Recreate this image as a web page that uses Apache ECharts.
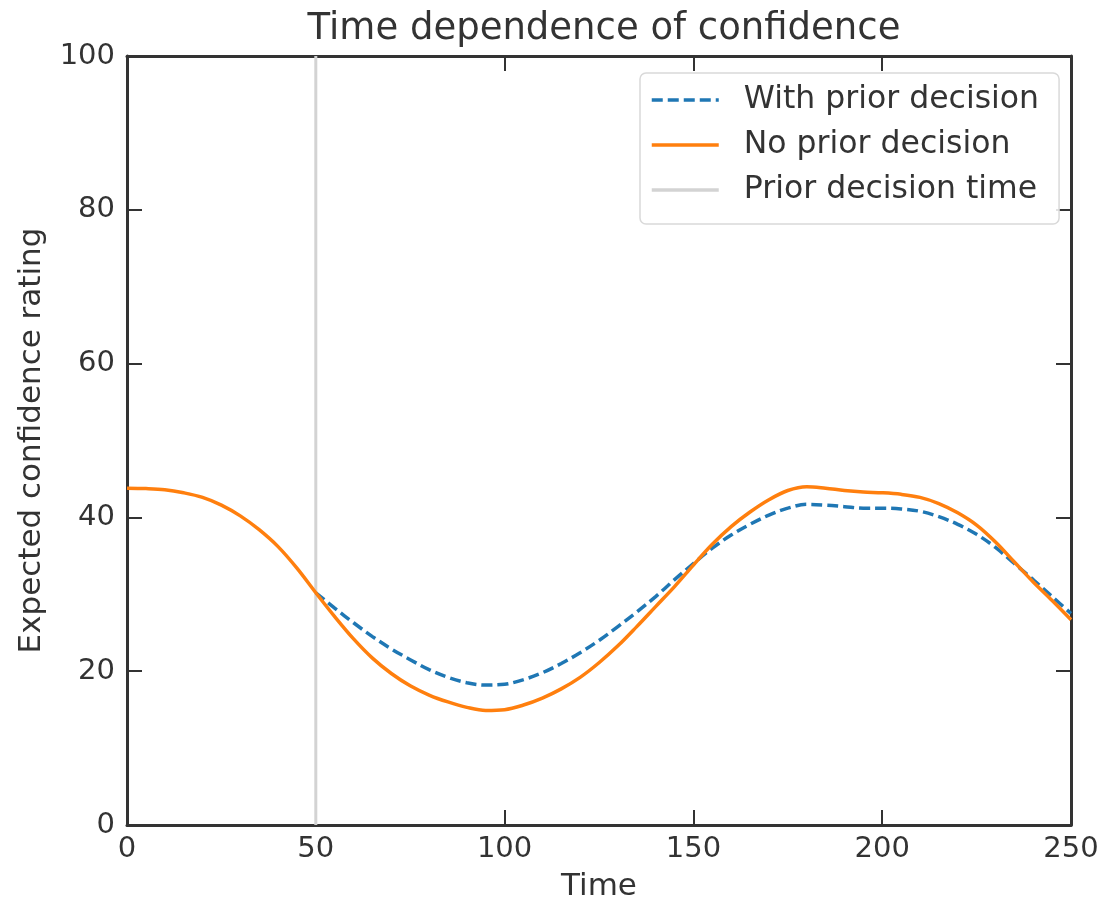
<!DOCTYPE html>
<html>
<head>
<meta charset="utf-8">
<title>Time dependence of confidence</title>
<script src="https://cdn.jsdelivr.net/npm/echarts@6/dist/echarts.min.js"></script>
<style>
  html, body { margin: 0; padding: 0; background: #fff; }
  #chart { width: 1115px; height: 899px; }
</style>
</head>
<body>
<div id="chart"></div>
<script>
// time points (step 5)
var time = [0, 5, 10, 15, 20, 25, 30, 35, 40, 45, 50, 55, 60, 65, 70, 75, 80, 85, 90, 95,
  100, 105, 110, 115, 120, 125, 130, 135, 140, 145, 150, 155, 160, 165, 170, 175, 180, 185, 190, 195,
  200, 205, 210, 215, 220, 225, 230, 235, 240, 245, 250]
// no prior decision (orange)
var noPrior = [43.8, 43.75, 43.6, 43.2, 42.6, 41.6, 40.2, 38.4, 36.2, 33.4, 30.2, 27.1, 24.2, 21.7, 19.7, 18.1, 16.9, 16.0, 15.3, 14.9,
  15.0, 15.6, 16.5, 17.7, 19.2, 21.1, 23.3, 25.8, 28.4, 31.0, 33.8, 36.5, 38.8, 40.7, 42.3, 43.5, 44.0, 43.8, 43.5, 43.3,
  43.2, 43.0, 42.6, 41.8, 40.6, 39.0, 36.8, 34.2, 31.6, 29.2, 26.7]
// with prior decision (blue dashed), starts at the decision time
var priorTime = [50, 55, 60, 65, 70, 75, 80, 85, 90, 95, 100, 105, 110, 115, 120, 125, 130, 135, 140, 145,
  150, 155, 160, 165, 170, 175, 180, 185, 190, 195, 200, 205, 210, 215, 220, 225, 230, 235, 240, 245, 250]
var withPrior = [30.2, 28.2, 26.3, 24.5, 22.9, 21.5, 20.2, 19.2, 18.5, 18.2, 18.3, 18.9, 19.8, 21.0, 22.4, 24.0, 25.8, 27.7, 29.7, 31.9,
  34.0, 36.0, 37.7, 39.1, 40.3, 41.2, 41.7, 41.6, 41.4, 41.2, 41.2, 41.1, 40.8, 40.1, 39.1, 37.8, 36.1, 34.0, 31.9, 29.7, 27.5]
var decisionTime = 50
var xTicks = { min: 0, max: 250, interval: 50 }
var yTicks = { min: 0, max: 100, interval: 20 }

var font = 'DejaVu Sans'
var ink = '#333333'

function pairs(xs, ys) {
  var out = []
  for (var i = 0; i < xs.length; i++) out.push([xs[i], ys[i]])
  return out
}

function makeAxis(range, pos, showLabel, extra) {
  var ax = {
    type: 'value',
    position: pos,
    min: range.min,
    max: range.max,
    interval: range.interval,
    axisLine: { show: true, onZero: false, lineStyle: { color: ink, width: 3 } },
    axisTick: { show: true, inside: true, length: 15, lineStyle: { color: ink, width: 2 } },
    axisLabel: { show: showLabel, color: ink, fontFamily: font, fontSize: 29 },
    splitLine: { show: false }
  }
  for (var k in extra) ax[k] = extra[k]
  return ax
}

var chart = echarts.init(document.getElementById('chart'), null, { renderer: 'canvas' })

var option = {
  backgroundColor: '#ffffff',
  animation: false,
  title: {
    text: 'Time dependence of confidence',
    left: 599,
    top: 6,
    textAlign: 'center',
    textStyle: { color: ink, fontFamily: font, fontSize: 37, fontWeight: 'normal' }
  },
  grid: { left: 127, right: 44, top: 56, bottom: 74, containLabel: false, outerBoundsMode: 'none' },
  legend: {
    orient: 'vertical',
    left: 640,
    top: 73,
    padding: [11, 20, 18, 10],
    itemWidth: 67,
    itemHeight: 14,
    itemGap: 13,
    backgroundColor: 'rgba(255,255,255,0.85)',
    borderColor: '#d9d9d9',
    borderWidth: 1.5,
    borderRadius: 6,
    itemStyle: { color: 'rgba(0,0,0,0)', borderWidth: 0 },
    lineStyle: { width: 3.5 },
    textStyle: { color: ink, fontFamily: font, fontSize: 31.5, padding: [0, 0, 0, 20] },
    data: ['With prior decision', 'No prior decision', 'Prior decision time']
  },
  xAxis: [
    makeAxis(xTicks, 'bottom', true, {
      name: 'Time', nameLocation: 'middle', nameGap: 46,
      nameTextStyle: { color: ink, fontFamily: font, fontSize: 31 },
      axisLabel: { show: true, color: ink, fontFamily: font, fontSize: 29, margin: 10 }
    }),
    makeAxis(xTicks, 'top', false, {})
  ],
  yAxis: [
    makeAxis(yTicks, 'left', true, {
      name: 'Expected confidence rating', nameLocation: 'middle', nameGap: 80,
      nameTextStyle: { color: ink, fontFamily: font, fontSize: 31 },
      axisLabel: { show: true, color: ink, fontFamily: font, fontSize: 29, margin: 12 }
    }),
    makeAxis(yTicks, 'right', false, {})
  ],
  series: [
    {
      name: 'Prior decision time',
      type: 'line',
      xAxisIndex: 0, yAxisIndex: 0,
      data: [[decisionTime, yTicks.min], [decisionTime, yTicks.max]],
      symbol: 'none',
      z: 1,
      itemStyle: { color: '#d3d3d3' },
      lineStyle: { color: '#d3d3d3', width: 3 }
    },
    {
      name: 'With prior decision',
      type: 'line',
      xAxisIndex: 0, yAxisIndex: 0,
      data: pairs(priorTime, withPrior),
      symbol: 'none',
      smooth: 0.35,
      z: 2,
      itemStyle: { color: '#1f77b4' },
      lineStyle: { color: '#1f77b4', width: 3.5, type: [11, 5] }
    },
    {
      name: 'No prior decision',
      type: 'line',
      xAxisIndex: 0, yAxisIndex: 0,
      data: pairs(time, noPrior),
      symbol: 'none',
      smooth: 0.35,
      z: 3,
      itemStyle: { color: '#ff7f0e' },
      lineStyle: { color: '#ff7f0e', width: 3.5 }
    }
  ]
}

chart.setOption(option)
</script>
</body>
</html>
